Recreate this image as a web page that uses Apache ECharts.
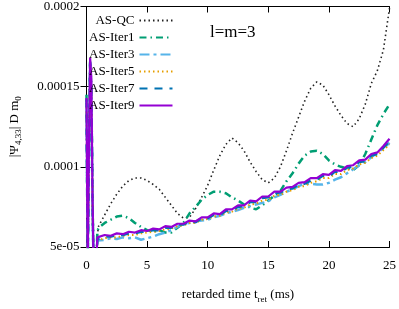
<!DOCTYPE html>
<html>
<head>
<meta charset="utf-8">
<script src="https://cdn.jsdelivr.net/npm/echarts@6/dist/echarts.min.js"></script>
<style>html,body{margin:0;padding:0;background:#fff;}#c{width:399px;height:309px;}</style>
</head>
<body>
<div id="c"></div>
<script>
// time axis (ms)
var timeMs = [0,0.1,0.2,0.3,0.4,0.5,0.6,0.7,0.8,0.9,
  1.0,1.5,2.0,2.5,3.0,3.5,4.0,4.5,5.0,5.5,6.0,6.5,7.0,7.5,8.0,8.5,9.0,9.5,10.0,
  10.5,11.0,11.5,12.0,12.5,13.0,13.5,14.0,14.5,15.0,15.5,16.0,16.5,17.0,17.5,18.0,
  18.5,19.0,19.5,20.0,20.5,21.0,21.5,22.0,22.5,23.0,23.5,24.0,24.5,25.0];

// values in units of 1e-5
var asQC = [13.5,4,10,16.2,14,7,3,3,4,5.8,
  6.3,7.0,7.7,8.3,8.8,9.15,9.3,9.3,9.15,8.9,8.6,8.1,7.6,7.1,6.8,6.85,7.4,8.1,8.85,
  9.8,10.7,11.4,11.8,11.5,11.0,10.3,9.7,9.2,9.0,9.3,10.0,11.0,12.1,13.1,14.1,
  14.9,15.3,15.1,14.5,13.8,13.2,12.7,12.5,13.0,13.9,15.2,16.0,17.3,19.9];
var asIter1 = [14.5,4,11,16.6,15,8,3,3,4,6.0,
  6.2,6.5,6.7,6.9,6.95,6.8,6.5,6.25,6.05,5.95,6.05,5.9,5.9,6.2,6.5,7.1,7.5,7.95,8.25,
  8.45,8.45,8.35,8.1,7.9,7.65,7.45,7.35,7.6,7.9,8.2,8.5,9.1,9.6,10.2,10.7,
  10.95,11.0,10.8,10.4,10.15,10.0,9.9,9.8,10.1,10.8,11.7,12.6,13.3,13.9];
var asIter3 = [14,4,10.5,16.4,14.5,7.5,3,3,4,5.4,
  5.5,5.45,5.55,5.5,5.6,5.55,5.6,5.45,5.55,5.65,5.8,5.9,6.05,6.25,6.45,6.5,6.6,6.65,6.7,
  6.85,6.95,7.1,7.2,7.3,7.45,7.55,7.65,7.75,7.85,8.1,8.25,8.45,8.6,8.8,8.95,
  8.95,8.9,8.9,9.0,9.2,9.35,9.6,9.85,10.1,10.3,10.6,10.9,11.15,11.5];
var asIter5 = [14,4,10.5,16.4,14.5,7.5,3,3,4,5.4,
  5.5,5.55,5.6,5.6,5.7,5.75,5.75,5.85,5.9,5.95,6.0,6.1,6.15,6.3,6.35,6.5,6.5,6.7,6.75,
  6.9,6.95,7.15,7.2,7.4,7.45,7.65,7.7,7.9,7.95,8.2,8.25,8.45,8.55,8.75,8.8,
  9.0,9.1,9.3,9.3,9.55,9.55,9.8,9.9,10.15,10.25,10.55,10.7,11.05,11.4];
var asIter7 = [14.2,4,10.8,16.5,14.8,7.8,3,3,4,5.5,
  5.6,5.65,5.65,5.75,5.75,5.85,5.85,5.95,5.95,6.05,6.05,6.2,6.2,6.4,6.4,6.6,6.55,6.8,6.8,
  7.0,7.0,7.25,7.3,7.5,7.55,7.8,7.8,8.05,8.1,8.35,8.4,8.6,8.65,8.9,8.95,
  9.15,9.2,9.45,9.4,9.7,9.7,9.95,10.0,10.3,10.35,10.7,10.8,11.2,11.6];
var asIter9 = [14.3,4,11,16.8,15.5,8,3,3,4,5.6,
  5.7,5.75,5.7,5.85,5.8,5.95,5.9,6.05,6.0,6.15,6.1,6.3,6.25,6.45,6.45,6.65,6.6,6.85,6.85,
  7.1,7.05,7.35,7.35,7.6,7.6,7.9,7.85,8.15,8.15,8.45,8.45,8.7,8.75,9.0,9.05,
  9.3,9.3,9.55,9.5,9.8,9.75,10.05,10.1,10.4,10.45,10.8,10.9,11.3,11.75];

var seriesNames = ['AS-QC','AS-Iter1','AS-Iter3','AS-Iter5','AS-Iter7','AS-Iter9'];
var yTickLabels = ['5e-05','0.0001','0.00015','0.0002'];
var xTicks = [0,5,10,15,20,25];

function pairs(vals){ return timeMs.map(function(t,i){ return [t, vals[i]]; }); }

var styles = [
  {color:'#222222', width:1.6, type:[1.5,3]},
  {color:'#009e73', width:2.5, type:[7,4,1.5,4]},
  {color:'#56b4e9', width:2.5, type:[10,4,3,4]},
  {color:'#e69f00', width:2, type:[1.5,3]},
  {color:'#0072b2', width:2.5, type:[8,7]},
  {color:'#9400d3', width:2.2, type:'solid'}
];
var allVals = [asQC, asIter1, asIter3, asIter5, asIter7, asIter9];

var serif = 'Liberation Serif';
var series = seriesNames.map(function(n,i){
  return {
    name:n, type:'line', data:pairs(allVals[i]), symbol:'none', showSymbol:false,
    clip:true, animation:false,
    lineStyle:{color:styles[i].color, width:styles[i].width, type:styles[i].type},
    itemStyle:{color:styles[i].color}
  };
});

var chart = echarts.init(document.getElementById('c'), null, {renderer:'canvas'});
chart.setOption({
  animation:false,
  backgroundColor:'#fff',
  title:{text:'l=m=3', left:210, top:24, padding:0,
    textStyle:{fontFamily:serif, fontSize:17, fontWeight:'normal', color:'#000'}},
  legend:{
    orient:'vertical', align:'right', left:89, top:14, padding:0,
    itemWidth:33, itemHeight:13, itemGap:4,
    itemStyle:{opacity:0},
    textStyle:{fontFamily:serif, fontSize:13, color:'#000'},
    data:seriesNames
  },
  grid:{left:76, right:6, top:5, bottom:51, containLabel:false},
  xAxis:[{
    type:'value', min:0, max:25, interval:5,
    axisLine:{lineStyle:{color:'#000', width:1}},
    axisTick:{inside:true, length:6, lineStyle:{color:'#000'}},
    axisLabel:{fontFamily:serif, fontSize:13, color:'#000', margin:12,
      formatter:function(v){ return xTicks.indexOf(v)>=0 ? String(v) : ''; }},
    splitLine:{show:false},
    name:'{n|retarded time t}{s|ret}{n| (ms)}', nameLocation:'middle', nameGap:40,
    nameTextStyle:{fontFamily:serif, fontSize:13, color:'#000',
      rich:{n:{fontFamily:serif, fontSize:13, color:'#000', lineHeight:16, verticalAlign:'middle'},
            s:{fontFamily:serif, fontSize:9, color:'#000', lineHeight:9, verticalAlign:'bottom', padding:[0,0,-1,0]}}}
  },{
    type:'value', position:'top', min:0, max:25, interval:5,
    axisLine:{lineStyle:{color:'#000', width:1}},
    axisTick:{inside:true, length:6, lineStyle:{color:'#000'}},
    axisLabel:{show:false}, splitLine:{show:false}
  }],
  yAxis:[{
    type:'value', min:5, max:20, interval:5,
    axisLine:{show:true, lineStyle:{color:'#000', width:1}},
    axisTick:{show:true, inside:true, length:6, lineStyle:{color:'#000'}},
    axisLabel:{fontFamily:serif, fontSize:13, color:'#000', margin:7,
      formatter:function(v){ var k=Math.round((v-5)/5); return yTickLabels[k]||''; }},
    splitLine:{show:false},
    name:'{n||Ψ}{s|4,33}{n|| D m}{s|0}', nameLocation:'middle', nameGap:64, nameRotate:90,
    nameTextStyle:{fontFamily:serif, fontSize:13, color:'#000',
      rich:{n:{fontFamily:serif, fontSize:13, color:'#000', lineHeight:16, verticalAlign:'middle'},
            s:{fontFamily:serif, fontSize:9, color:'#000', lineHeight:9, verticalAlign:'bottom', padding:[0,0,-1,0]}}}
  },{
    type:'value', position:'right', min:5, max:20, interval:5,
    axisLine:{show:true, lineStyle:{color:'#000', width:1}},
    axisTick:{show:true, inside:true, length:6, lineStyle:{color:'#000'}},
    axisLabel:{show:false}, splitLine:{show:false}
  }],
  series:series
});
</script>
</body>
</html>
